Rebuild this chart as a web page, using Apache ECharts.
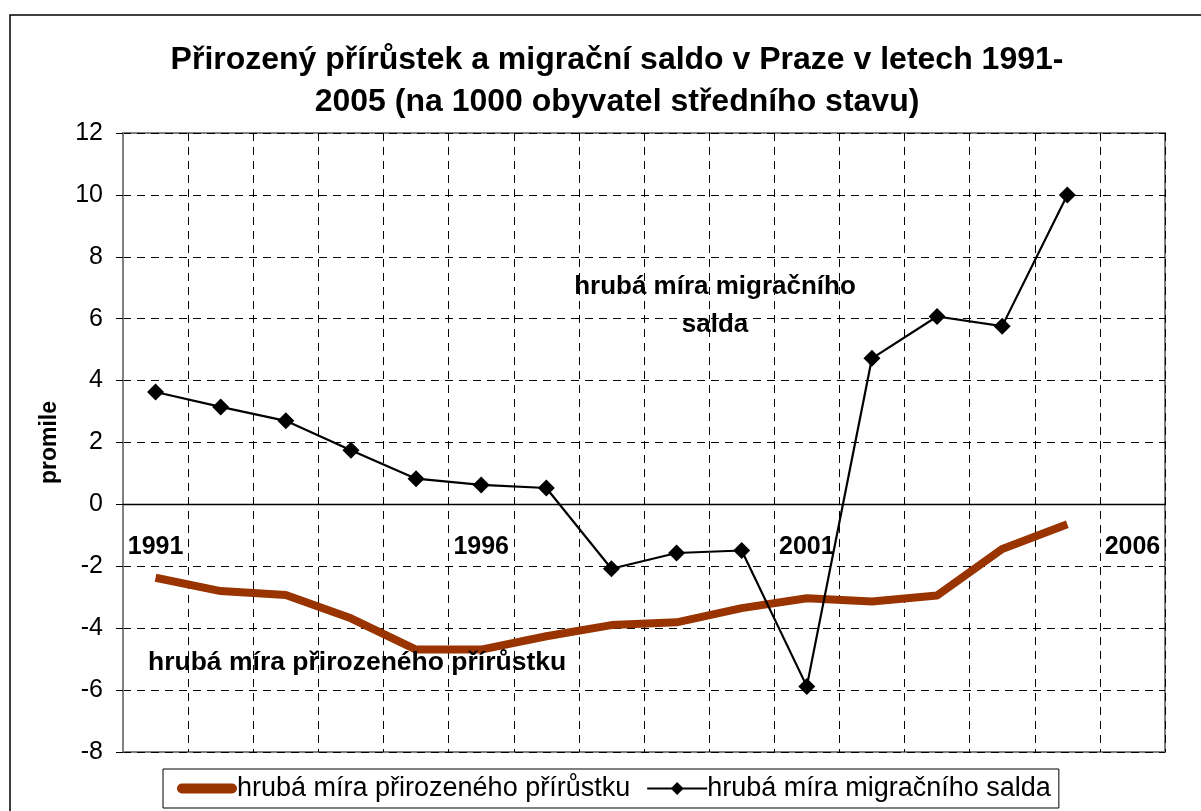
<!DOCTYPE html>
<html>
<head>
<meta charset="utf-8">
<script src="https://cdn.jsdelivr.net/npm/echarts@6/dist/echarts.min.js"></script>
<style>html,body{margin:0;padding:0;background:#fff;}#c{width:1201px;height:811px;}</style>
</head>
<body>
<div id="c"></div>
<script>
const years = ['1991','1992','1993','1994','1995','1996','1997','1998','1999','2000','2001','2002','2003','2004','2005','2006'];
const yTicks = {min: -8, max: 12, interval: 2};
const natName = 'hrubá míra přirozeného přírůstku';
const migName = 'hrubá míra migračního salda';
const natural = [-2.37, -2.80, -2.93, -3.68, -4.69, -4.69, -4.26, -3.90, -3.81, -3.35, -3.03, -3.14, -2.94, -1.44, -0.64];
const migration = [3.63, 3.15, 2.70, 1.75, 0.83, 0.63, 0.53, -2.08, -1.57, -1.49, -5.88, 4.72, 6.07, 5.76, 10.0];

const FONT = 'Liberation Sans, Arial, sans-serif';
const GRID = {left: 123, right: 36, top: 133, bottom: 59};
const gridH = 811 - GRID.top - GRID.bottom;
const zeroOffset = -gridH * (0 - yTicks.min) / (yTicks.max - yTicks.min);
const capsuleIcon = 'path://M0,0M60,16M5,3L55,3A5,5,0,0,1,55,13L5,13A5,5,0,0,1,5,3Z';

const chart = echarts.init(document.getElementById('c'), null, {renderer: 'canvas'});
chart.setOption({
  animation: false,
  backgroundColor: '#fff',
  title: {
    text: 'Přirozený přírůstek a migrační saldo v Praze v letech 1991-\n2005 (na 1000 obyvatel středního stavu)',
    left: 612, top: 34, textAlign: 'center',
    textStyle: {fontFamily: FONT, fontSize: 32, fontWeight: 'bold', color: '#000', lineHeight: 42}
  },
  grid: Object.assign({show: true, borderColor: '#808080', borderWidth: 2, backgroundColor: '#fff'}, GRID),
  xAxis: {
    type: 'category', data: years, boundaryGap: true, offset: zeroOffset,
    axisLine: {onZero: false, lineStyle: {color: '#000', width: 1.3}},
    axisTick: {show: false},
    axisLabel: {interval: 4, margin: 30, fontFamily: FONT, fontSize: 25, fontWeight: 'bold', color: '#000'},
    splitLine: {show: true, interval: 0, lineStyle: {color: '#000', type: [8, 6], width: 1}}
  },
  yAxis: {
    type: 'value', min: yTicks.min, max: yTicks.max, interval: yTicks.interval,
    name: 'promile', nameLocation: 'middle', nameGap: 62, nameRotate: 90,
    nameTextStyle: {fontFamily: FONT, fontSize: 23, fontWeight: 'bold', color: '#000'},
    axisLine: {show: true, lineStyle: {color: '#808080', width: 2}},
    axisTick: {show: true, length: 7, lineStyle: {color: '#000'}},
    axisLabel: {margin: 20, fontFamily: FONT, fontSize: 25, color: '#000'},
    splitLine: {show: true, lineStyle: {color: '#000', type: [8, 6], width: 1}}
  },
  legend: {
    bottom: 3, left: 163,
    data: [{name: natName, icon: capsuleIcon}, {name: migName}],
    borderColor: '#000', borderWidth: 1, padding: [6, 8, 6, 14],
    itemWidth: 60, itemHeight: 16, itemGap: 16,
    textStyle: {fontFamily: FONT, fontSize: 27, color: '#000', padding: [0, 0, 0, -5]}
  },
  series: [
    {name: natName, type: 'line', data: natural, symbol: 'none', smooth: false,
     lineStyle: {color: '#993300', width: 8}, itemStyle: {color: '#993300'}, z: 3},
    {name: migName, type: 'line', data: migration, symbol: 'diamond', symbolSize: 17,
     lineStyle: {color: '#000', width: 2.2}, itemStyle: {color: '#000'}, z: 4}
  ],
  graphic: [
    {type: 'rect', silent: true, z: -10, shape: {x: 10, y: 15, width: 1260, height: 900},
     style: {fill: 'none', stroke: '#000', lineWidth: 1.5}},
    {type: 'text', z: 100, x: 715, y: 268, style: {text: 'hrubá míra migračního\nsalda', textAlign: 'center',
      font: 'bold 26px ' + FONT, fill: '#000', lineHeight: 38}},
    {type: 'text', z: 100, x: 148, y: 649, style: {text: 'hrubá míra přirozeného přírůstku', textAlign: 'left',
      font: 'bold 26.5px ' + FONT, fill: '#000'}}
  ]
});
</script>
</body>
</html>
